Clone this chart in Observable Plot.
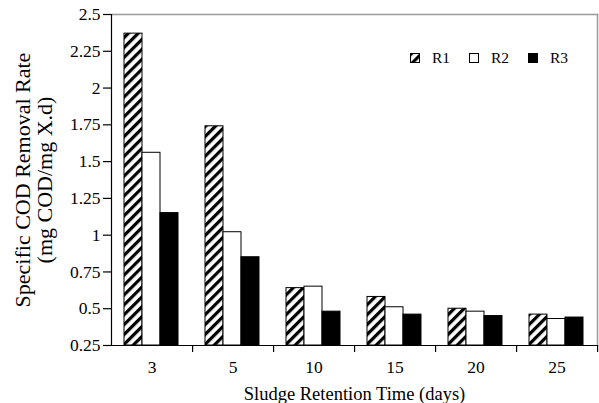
<!DOCTYPE html>
<html><head><meta charset="utf-8">
<script src="https://cdn.jsdelivr.net/npm/d3@7"></script>
<script src="https://cdn.jsdelivr.net/npm/@observablehq/plot@0.6"></script>
<style>
body{margin:0;background:#fff;}
#chart{position:relative;width:599px;height:403px;font-family:"Liberation Serif","Times New Roman",serif;}
#legend{position:absolute;left:410px;top:50px;display:flex;font-size:15.5px;line-height:15px;color:#000;}
#legend .item{display:flex;align-items:center;width:59px;}
#legend svg{margin-right:12px;}
</style></head><body><div id="chart"></div>
<script>
const srt = ["3", "5", "10", "15", "20", "25"];
const series = ["R1", "R2", "R3"];
const r1 = [2.37, 1.74, 0.64, 0.58, 0.50, 0.46];
const r2 = [1.56, 1.02, 0.65, 0.51, 0.48, 0.43];
const r3 = [1.15, 0.85, 0.48, 0.46, 0.45, 0.44];
const yTicks = [0.25, 0.5, 0.75, 1, 1.25, 1.5, 1.75, 2, 2.25, 2.5];
const fills = ["url(#hatch)", "white", "black"];
const yLabel = "Specific COD Removal Rate\n(mg COD/mg X.d)";
const xLabel = "Sludge Retention Time (days)";

const values = [r1, r2, r3];
const data = srt.flatMap((s, i) => series.map((r, k) => ({srt: s, series: r, value: values[k][i]})));

const W = 599, H = 403, ml = 110, mr = 2, mt = 14, mb = 58;
const facetW = (W - ml - mr) / srt.length;

const plot = Plot.plot({
  width: W, height: H,
  marginLeft: ml, marginRight: mr, marginTop: mt, marginBottom: mb,
  style: {fontFamily: '"Liberation Serif","Times New Roman",serif', fontSize: "17px", color: "black", background: "white", overflow: "visible"},
  fx: {domain: srt, paddingInner: 0, paddingOuter: 0},
  x: {domain: series, padding: 0, insetLeft: 12, insetRight: 14, axis: null},
  y: {domain: [yTicks[0], yTicks[yTicks.length - 1]]},
  color: {domain: series, range: fills},
  marks: [
    Plot.barY(data, {fx: "srt", x: "series", y1: yTicks[0], y2: "value", fill: "series", stroke: "black", strokeWidth: 1}),
    Plot.frame({facet: "super", anchor: "top", stroke: "#9a9a9a", strokeWidth: 1.5}),
    Plot.frame({facet: "super", anchor: "right", stroke: "#9a9a9a", strokeWidth: 1.5}),
    Plot.frame({facet: "super", anchor: "bottom", stroke: "black", strokeWidth: 1.2}),
    Plot.frame({facet: "super", anchor: "left", stroke: "black", strokeWidth: 1.2}),
    Plot.axisY({ticks: yTicks, tickFormat: d => String(d), tickSize: 8, tickPadding: 3, fontSize: 17.5, strokeWidth: 1.2, label: null}),
    Plot.axisY({ticks: yTicks, tickSize: 0, text: null, fontSize: 22, lineHeight: 1.12,
      label: yLabel, labelAnchor: "center", labelArrow: "none", labelOffset: 97}),
    Plot.axisFx({anchor: "bottom", tickSize: 0, tickPadding: 15, fontSize: 17.5, label: null}),
    Plot.axisFx({anchor: "bottom", tickSize: 0, text: null, fontSize: 18.5,
      label: xLabel, labelAnchor: "center", labelArrow: "none", labelOffset: 54}),
    Plot.axisFx({anchor: "bottom", tickSize: 7, text: null, label: null, dx: facetW / 2, strokeWidth: 1.2})
  ]
});

const svg = d3.select(plot);
const defs = svg.insert("defs", ":first-child");
const pat = defs.append("pattern").attr("id", "hatch").attr("patternUnits", "userSpaceOnUse")
  .attr("width", 7).attr("height", 7).attr("patternTransform", "rotate(45)");
pat.append("rect").attr("width", 7).attr("height", 7).attr("fill", "white");
pat.append("rect").attr("width", 3.2).attr("height", 7).attr("fill", "black");

const chart = document.getElementById("chart");
chart.appendChild(plot);

const legend = document.createElement("div");
legend.id = "legend";
series.forEach((s, k) => {
  const item = document.createElement("div");
  item.className = "item";
  item.innerHTML = `<svg width="10" height="10"><rect x="0.5" y="0.5" width="9" height="9" fill="${fills[k]}" stroke="black"/></svg><span>${s}</span>`;
  legend.appendChild(item);
});
chart.appendChild(legend);
</script>
</body></html>
